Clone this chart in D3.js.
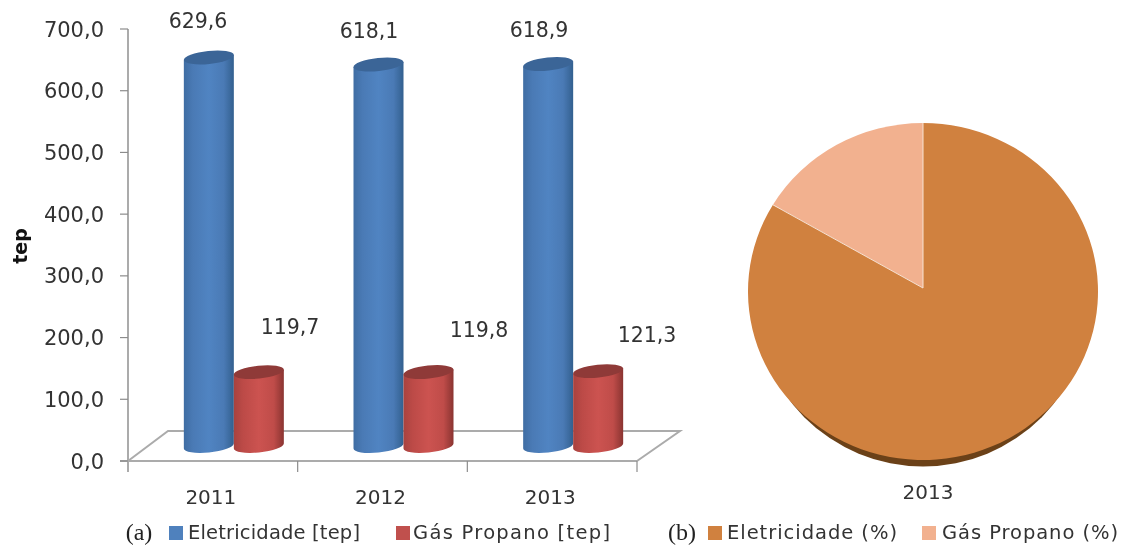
<!DOCTYPE html>
<html><head><meta charset="utf-8">
<script src="https://cdn.jsdelivr.net/npm/d3@7"></script>
<style>html,body{margin:0;background:#fff}svg{display:block;filter:blur(0.45px)}text{font-family:"DejaVu Sans",sans-serif;fill:#333}</style>
</head><body><svg id="c" width="1124" height="546"></svg>
<script>
const years=["2011","2012","2013"];
const eletricidade=[629.6,618.1,618.9];
const gasPropano=[119.7,119.8,121.3];
const yTicks=[0,100,200,300,400,500,600,700];
const pieNames=["Eletricidade (%)","Gás Propano (%)"];
const pieValues=[83.6,16.4];
const fmt=v=>d3.format(".1f")(v).replace(".",",");
const svg=d3.select("#c");
const defs=svg.append("defs");
function grad(id,stops){const g=defs.append("linearGradient").attr("id",id);
 stops.forEach(([o,c])=>g.append("stop").attr("offset",o).attr("stop-color",c));}
grad("blue",[[0,"#3f6da3"],[.18,"#4a7ab5"],[.5,"#5084c2"],[.8,"#4a7ab5"],[1,"#33608f"]]);
grad("red",[[0,"#a8423f"],[.18,"#bc4a47"],[.5,"#cc5350"],[.8,"#bf4c49"],[1,"#8a3431"]]);
const y=d3.scaleLinear().domain([0,700]).range([461,29]);
const x=d3.scaleBand().domain(years).range([128,637]);
const grey="#ababab";
// floor
const g=svg.append("g").attr("fill","none").attr("stroke",grey).attr("stroke-width",2);
const depthX=43,depthY=30;
g.append("path").attr("d",d3.line()([[128,y(0)],[128+depthX-3,y(0)-depthY],[637+depthX,y(0)-depthY],[637,y(0)]]));
g.append("line").attr("x1",128).attr("x2",128).attr("y1",y(700)).attr("y2",y(0)+11);
g.append("line").attr("x1",120).attr("x2",637).attr("y1",y(0)).attr("y2",y(0));
const tk=svg.append("g").attr("stroke","#8c8c8c").attr("stroke-width",1.2);
yTicks.forEach(t=>tk.append("line").attr("x1",120).attr("x2",128).attr("y1",y(t)).attr("y2",y(t)));
years.map(d=>x(d)+x.bandwidth()).forEach(px=>tk.append("line").attr("x1",px).attr("x2",px).attr("y1",y(0)).attr("y2",y(0)+11));
// y labels
const T=svg.append("g");
yTicks.forEach(t=>T.append("text").attr("x",104).attr("y",y(t)+7.5).attr("text-anchor","end").attr("font-size",21).text(fmt(t)));
T.append("text").attr("transform","translate(27,246) rotate(-90)").attr("text-anchor","middle").attr("font-size",19).attr("font-weight","bold").style("fill","#111").text("tep");
// cylinders
const base=y(0)-15, rx=25, ry=6.5, tilt=-6, lift=2.5;
const rxT=Math.hypot(rx,lift);
function cyl(cx,v,fill,top){
 const yt=y(v)-15;
 svg.append("path").attr("fill",`url(#${fill})`).attr("d",
  `M${cx-rx},${yt+lift}L${cx-rx},${base+lift}A${rxT},${ry} ${tilt} 0 0 ${cx+rx},${base-lift}L${cx+rx},${yt-lift}Z`);
 svg.append("ellipse").attr("transform",`translate(${cx},${yt}) rotate(${tilt})`).attr("rx",rxT).attr("ry",ry).attr("fill",top);
}
years.forEach((d,i)=>{
 const c=x(d)+x.bandwidth()/2;
 cyl(c-4,eletricidade[i],"blue","#3b6597");
 cyl(c+46,gasPropano[i],"red","#8f3a38");
});
const eLab=[[198,28],[369,38],[539,37]], gLab=[[290,334],[479,337],[647,342]];
years.forEach((d,i)=>{
 T.append("text").attr("x",eLab[i][0]).attr("y",eLab[i][1]).attr("text-anchor","middle").attr("font-size",20.5).text(fmt(eletricidade[i]));
 T.append("text").attr("x",gLab[i][0]).attr("y",gLab[i][1]).attr("text-anchor","middle").attr("font-size",20.5).text(fmt(gasPropano[i]));
 T.append("text").attr("x",x(d)+x.bandwidth()/2-2).attr("y",504).attr("text-anchor","middle").attr("font-size",20).text(d);
});
// pie: elliptical outline, apex sits above the ellipse centre
const cx=923,cy=291.5,apexY=288,prx=175,pry=168.5;
svg.append("ellipse").attr("cx",cx).attr("cy",cy+6.5).attr("rx",prx-7).attr("ry",pry).attr("fill","#6b4118");
const arcs=d3.pie().sort(null)(pieValues);
const pieCols=["#d0813f","#f2b18f"];
const pt=a=>[cx+prx*Math.sin(a),cy-pry*Math.cos(a)];
svg.selectAll("path.slice").data(arcs).join("path").attr("class","slice")
 .attr("d",d=>{const p0=pt(d.startAngle),p1=pt(d.endAngle),large=d.endAngle-d.startAngle>Math.PI?1:0;
  return `M${cx},${apexY}L${p0}A${prx},${pry} 0 ${large} 1 ${p1}Z`;})
 .attr("fill",(d,i)=>pieCols[i]);
svg.append("path").attr("fill","none").attr("stroke","#f8e2d2").attr("stroke-width",1)
 .attr("d",`M${pt(arcs[0].endAngle)}L${cx},${apexY}L${pt(0)}`);
T.append("text").attr("x",933).attr("y",346).attr("text-anchor","middle").attr("font-size",20.5).style("fill","#222").text(fmt(pieValues[0]));
T.append("text").attr("x",880).attr("y",195).attr("text-anchor","middle").attr("font-size",20.5).style("fill","#222").text(fmt(pieValues[1]));
T.append("text").attr("x",928).attr("y",499).attr("text-anchor","middle").attr("font-size",20).text("2013");
// legends
function leg(xr,c,xt,s,len){svg.append("rect").attr("x",xr).attr("y",526).attr("width",14).attr("height",14).attr("fill",c);
 T.append("text").attr("x",xt).attr("y",539).attr("font-size",19.5).attr("textLength",len).text(s);}
leg(169,"#4f81bd",188,"Eletricidade [tep]",172);
leg(396,"#c0504d",413,"Gás Propano [tep]",197);
leg(708,"#d0813f",727,pieNames[0],170);
leg(922,"#f2b18f",942,pieNames[1],176);
[["(a)",139],["(b)",682]].forEach(([s,px])=>T.append("text").attr("x",px).attr("y",540).attr("text-anchor","middle").attr("font-size",24).style("font-family","'Liberation Serif',serif").style("fill","#222").text(s));
</script></body></html>
